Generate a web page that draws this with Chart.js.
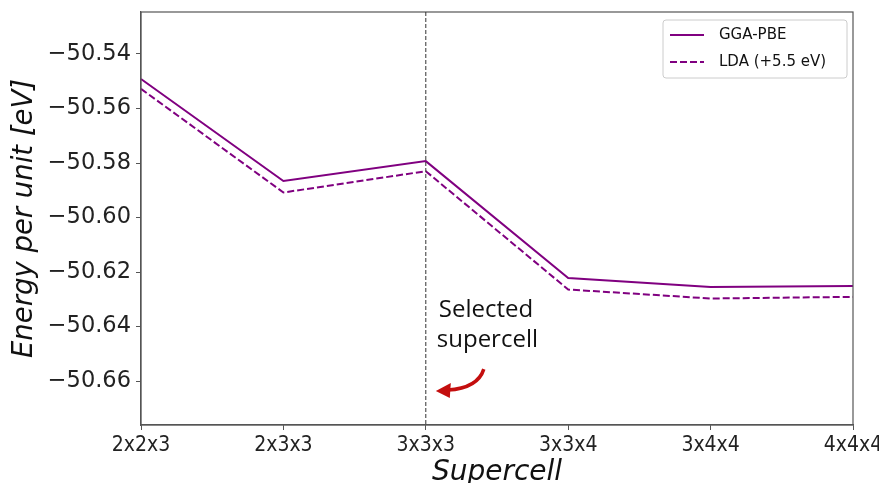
<!DOCTYPE html>
<html>
<head>
<meta charset="utf-8">
<script src="https://cdn.jsdelivr.net/npm/chart.js@4"></script>
<style>
  html, body { margin: 0; padding: 0; background: #fff; }
  #wrap { width: 879px; height: 483px; }
</style>
</head>
<body>
<div id="wrap"><canvas id="grafico"></canvas></div>
<script>
// data
const categorias = ['2x2x3', '2x3x3', '3x3x3', '3x3x4', '3x4x4', '4x4x4']
const ggaPbe = [-50.5492, -50.5866, -50.5793, -50.6222, -50.6255, -50.6251]
const lda = [-50.5528, -50.5908, -50.5830, -50.6264, -50.6297, -50.6291]
const yTicks = [-50.54, -50.56, -50.58, -50.60, -50.62, -50.64, -50.66]
const seleccionado = '3x3x3'
const nota = ['Selected', 'supercell']

const morado = 'rgb(128,0,128)'
const borde = '#555'

const extras = {
  id: 'extras',
  afterDraw(chart) {
    const ctx = chart.ctx
    const a = chart.chartArea
    const x = chart.scales.x
    const y = chart.scales.y
    ctx.save()
    // marco
    ctx.strokeStyle = borde
    ctx.lineWidth = 1.2
    ctx.strokeRect(a.left, a.top, a.right - a.left, a.bottom - a.top)

    // linea vertical punteada
    const px = x.getPixelForValue(categorias.indexOf(seleccionado))
    ctx.strokeStyle = '#333'
    ctx.lineWidth = 1
    ctx.setLineDash([4, 2])
    ctx.beginPath()
    ctx.moveTo(px, a.top)
    ctx.lineTo(px, a.bottom)
    ctx.stroke()
    ctx.setLineDash([])

    // texto
    ctx.fillStyle = '#111'
    ctx.font = '24px "Open Sans"'
    ctx.textAlign = 'left'
    ctx.textBaseline = 'middle'
    ctx.fillText(nota[0], px + 13, y.getPixelForValue(-50.6340))
    ctx.fillText(nota[1], px + 11, y.getPixelForValue(-50.6450))

    // flecha roja
    const ay = y.getPixelForValue(-50.6633)
    ctx.strokeStyle = '#c40e0e'
    ctx.fillStyle = '#c40e0e'
    ctx.lineWidth = 3.5
    ctx.beginPath()
    ctx.moveTo(px + 58, ay - 21)
    ctx.quadraticCurveTo(px + 52, ay - 2, px + 22, ay)
    ctx.stroke()
    ctx.beginPath()
    ctx.moveTo(px + 10, ay + 1)
    ctx.lineTo(px + 25, ay - 7)
    ctx.lineTo(px + 24, ay + 8)
    ctx.closePath()
    ctx.fill()

    // leyenda
    const lx = 663, ly = 20, lw = 184, lh = 58
    ctx.fillStyle = 'rgba(255,255,255,0.85)'
    ctx.strokeStyle = '#ccc'
    ctx.lineWidth = 1
    ctx.beginPath()
    ctx.roundRect(lx, ly, lw, lh, 3)
    ctx.fill()
    ctx.stroke()
    const filas = [
      { t: 'GGA-PBE', dash: [] },
      { t: 'LDA (+5.5 eV)', dash: [7, 3] }
    ]
    filas.forEach((f, i) => {
      const yy = ly + 15 + i * 27
      ctx.strokeStyle = morado
      ctx.lineWidth = 2
      ctx.setLineDash(f.dash)
      ctx.beginPath()
      ctx.moveTo(lx + 7, yy)
      ctx.lineTo(lx + 41, yy)
      ctx.stroke()
      ctx.setLineDash([])
      ctx.fillStyle = '#111'
      ctx.font = '15px "DejaVu Sans"'
      ctx.textAlign = 'left'
      ctx.textBaseline = 'middle'
      ctx.fillText(f.t, lx + 56, yy)
    })
    ctx.restore()
  }
}

const data = {
  labels: categorias,
  datasets: [
    {
      label: 'GGA-PBE',
      data: ggaPbe,
      borderColor: morado,
      borderWidth: 2,
      pointRadius: 0,
      tension: 0
    },
    {
      label: 'LDA (+5.5 eV)',
      data: lda,
      borderColor: morado,
      borderWidth: 2,
      borderDash: [7, 3],
      pointRadius: 0,
      tension: 0
    }
  ]
}

const config = {
  type: 'line',
  data: data,
  options: {
    responsive: false,
    animation: false,
    layout: { padding: { left: 0, right: 26, top: 12, bottom: 0 } },
    plugins: {
      legend: { display: false },
      tooltip: { enabled: false }
    },
    scales: {
      x: {
        type: 'category',
        offset: false,
        grid: { display: true, drawOnChartArea: false, drawTicks: true, tickLength: 5, color: borde },
        border: { display: true, color: borde, width: 1.2 },
        ticks: { color: '#222', font: { family: '"DejaVu Sans Condensed", "DejaVu Sans"', size: 21 }, padding: 3, maxRotation: 0 },
        title: { display: true, text: 'Supercell', color: '#111', font: { family: 'DejaVu Sans', size: 28, style: 'italic', lineHeight: 1.0 }, padding: { top: 0, bottom: -4 } },
        afterFit: (s) => { s.height = 58; s.paddingLeft = 0; s.paddingRight = 0 }
      },
      y: {
        min: -50.6761,
        max: -50.5246,
        grid: { display: true, drawOnChartArea: false, drawTicks: true, tickLength: 5, color: borde },
        border: { display: true, color: borde, width: 1.2 },
        afterBuildTicks: (s) => { s.ticks = yTicks.map(v => ({ value: v })) },
        ticks: {
          color: '#222',
          font: { family: 'DejaVu Sans', size: 22.5 },
          padding: 5,
          callback: (v) => '\u2212' + Math.abs(v).toFixed(2)
        },
        title: { display: true, text: 'Energy per unit [eV]', color: '#111', font: { family: 'DejaVu Sans', size: 27.5, style: 'italic' }, padding: { top: 8, bottom: 4 } },
        afterFit: (s) => { s.width = 141; s.paddingTop = 0; s.paddingBottom = 0 }
      }
    }
  },
  plugins: [extras]
}

const canvas = document.getElementById('grafico')
canvas.width = 879
canvas.height = 483
const myChart = new Chart(canvas, config)
</script>
</body>
</html>
